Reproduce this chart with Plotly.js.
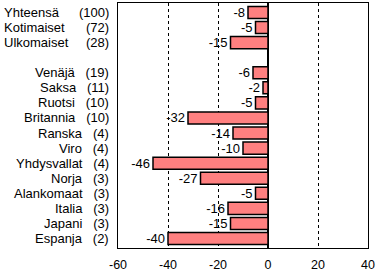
<!DOCTYPE html>
<html>
<head>
<meta charset="utf-8">
<script src="https://cdn.plot.ly/plotly-3.0.1.min.js"></script>
<style>html,body{margin:0;padding:0;background:#fff;}#chart{width:377px;height:271px;}</style>
</head>
<body>
<div id="chart"></div>
<script>
const categories = ['Yhteensä','Kotimaiset','Ulkomaiset',' ','Venäjä','Saksa','Ruotsi','Britannia','Ranska','Viro','Yhdysvallat','Norja','Alankomaat','Italia','Japani','Espanja'];
const counts = ['(100)','(72)','(28)','','(19)','(11)','(10)','(10)','(4)','(4)','(4)','(3)','(3)','(3)','(3)','(2)'];
const values = [-8,-5,-15,null,-6,-2,-5,-32,-14,-10,-46,-27,-5,-16,-15,-40];
const leftAligned = [true,true,true,false,false,false,false,false,false,false,false,false,false,false,false,false];
const xTicks = [-60,-40,-20,0,20,40];

const FONT = 'Liberation Sans, Arial, sans-serif';
const plotLeft = 118, plotWidth = 250;
const px = p => (p - plotLeft) / plotWidth;
const LBL = 13;

const annotations = [];
categories.forEach((c, i) => {
  if (!counts[i]) return;
  if (leftAligned[i]) {
    annotations.push({xref:'paper', yref:'y', x:px(2), y:c, text:c, xanchor:'left', yanchor:'middle', showarrow:false, font:{family:FONT,size:LBL,color:'#000'}});
    annotations.push({xref:'paper', yref:'y', x:px(111), y:c, text:counts[i], xanchor:'right', yanchor:'middle', showarrow:false, font:{family:FONT,size:LBL,color:'#000'}});
  } else {
    annotations.push({xref:'paper', yref:'y', x:px(111), y:c, text:c + '\u00a0\u00a0\u00a0' + counts[i], xanchor:'right', yanchor:'middle', showarrow:false, font:{family:FONT,size:LBL,color:'#000'}});
  }
});

const trace = {
  type:'bar', orientation:'h',
  x: values, y: categories,
  width: 0.8,
  marker:{color:'#FF8080', line:{color:'#000', width:1.5}},
  text: values.map(v => v === null ? '' : String(v)),
  textposition:'outside',
  constraintext:'none',
  cliponaxis:false,
  textfont:{family:FONT, size:LBL, color:'#000'},
  hoverinfo:'none'
};

const layout = {
  width:377, height:271,
  margin:{l:plotLeft, r:9, t:3, b:23, pad:0},
  paper_bgcolor:'#fff', plot_bgcolor:'#fff',
  showlegend:false,
  font:{family:FONT, size:12, color:'#000'},
  xaxis:{
    range:[-60,40], tickvals:xTicks, ticktext:xTicks.map(String),
    showgrid:true, gridcolor:'#000', griddash:'3px,3px', gridwidth:1,
    zeroline:true, zerolinecolor:'#000', zerolinewidth:2,
    showline:true, linecolor:'#000', linewidth:1, mirror:true,
    ticks:'outside', ticklen:5, tickcolor:'rgba(0,0,0,0)',
    tickfont:{family:FONT,size:12.5,color:'#000'},
    fixedrange:true
  },
  yaxis:{
    type:'category', autorange:'reversed', showticklabels:false,
    showgrid:false, zeroline:false,
    showline:true, linecolor:'#000', linewidth:1, mirror:true,
    ticks:'', fixedrange:true
  },
  annotations: annotations
};

Plotly.newPlot('chart', [trace], layout, {staticPlot:true, displayModeBar:false});
</script>
</body>
</html>
